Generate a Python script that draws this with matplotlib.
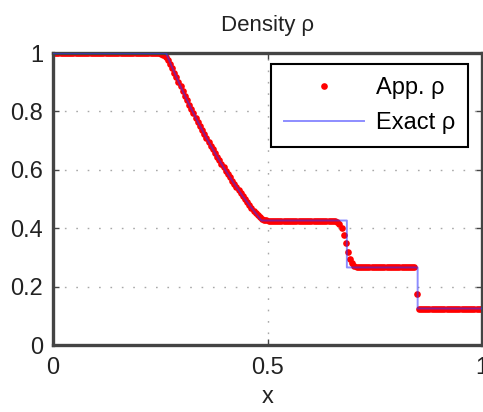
import matplotlib
matplotlib.use('Agg')
import matplotlib.pyplot as plt
import numpy as np

# numerical solution, 200 cells on [0, 1]
x_app = np.linspace(0.0025, 0.9975, 200)
rho_app = ([1.0] * 50 +
           [0.998, 0.994, 0.985, 0.975, 0.962, 0.949, 0.933, 0.917] +
           [0.9014, 0.8853, 0.8695, 0.8538, 0.8384, 0.8233, 0.8083, 0.7935, 0.7790,
            0.7647, 0.7506, 0.7367, 0.7230, 0.7095, 0.6962, 0.6831, 0.6703, 0.6576,
            0.6451, 0.6327, 0.6206, 0.6087, 0.5970, 0.5854, 0.5740, 0.5628, 0.5518,
            0.5409, 0.5302, 0.5197, 0.5093, 0.4992, 0.4891, 0.4793, 0.4696, 0.4601] +
           [0.452, 0.444, 0.437, 0.432, 0.429, 0.427] +
           [0.426] * 30 +
           [0.425, 0.424, 0.421, 0.414, 0.400, 0.378, 0.350, 0.320, 0.296, 0.280, 0.272, 0.268] +
           [0.266] * 27 +
           [0.175] +
           [0.125] * 30)

# exact solution
x_exact = [0.0, 0.2634, 0.28, 0.30, 0.32, 0.34, 0.36, 0.38, 0.40, 0.42, 0.44, 0.46, 0.48,
           0.4859, 0.685, 0.685, 0.850, 0.850, 1.0]
rho_exact = [1.0, 1.0, 0.9429, 0.8775, 0.8158, 0.7576, 0.7029, 0.6513, 0.6028, 0.5575,
             0.5147, 0.4745, 0.4370, 0.4263, 0.4263, 0.2656, 0.2656, 0.125, 0.125]

plt.rcParams['font.family'] = 'Liberation Sans'
plt.rcParams['font.size'] = 17

fig = plt.figure(figsize=(4.83, 4.12), dpi=100)
ax = fig.add_axes([53/483, 1 - 345/412, 429/483, 292/412])

ax.plot(x_app, rho_app, ls='none', marker='o', ms=4.8, color='red', mec='none',
        label=r'App. ρ', zorder=2)
ax.plot(x_exact, rho_exact, color='#3030ff', lw=1.4, alpha=0.55, label='Exact ρ', zorder=3)

ax.set_xlim(0, 1)
ax.set_ylim(0, 1)
ax.set_xticks([0, 0.5, 1])
ax.set_xticklabels(['0', '0.5', '1'])
ax.set_yticks([0, 0.2, 0.4, 0.6, 0.8, 1])
ax.set_yticklabels(['0', '0.2', '0.4', '0.6', '0.8', '1'])
ax.tick_params(direction='in', length=4, width=1, top=True, right=True, colors='#444444',
               labelcolor='#222222', pad=9)
ax.tick_params(axis='y', pad=7)
ax.grid(True, ls=(0, (1.2, 7)), lw=1.0, color='#a8a8a8')
for s in ax.spines.values():
    s.set_linewidth(2.4)
    s.set_color('#444444')

ax.set_title('Density ρ', fontsize=16, pad=16, color='#222222')
ax.set_xlabel('x', labelpad=5, color='#222222')

leg = ax.legend(loc='upper right', bbox_to_anchor=(0.967, 0.962), borderaxespad=0,
                fancybox=False, framealpha=1, edgecolor='black', borderpad=0.55,
                handlelength=3.4, handletextpad=0.5, labelspacing=0.55, fontsize=17,
                markerscale=1.0)
leg.get_frame().set_linewidth(1.5)

fig.savefig('out.png', dpi=100)
